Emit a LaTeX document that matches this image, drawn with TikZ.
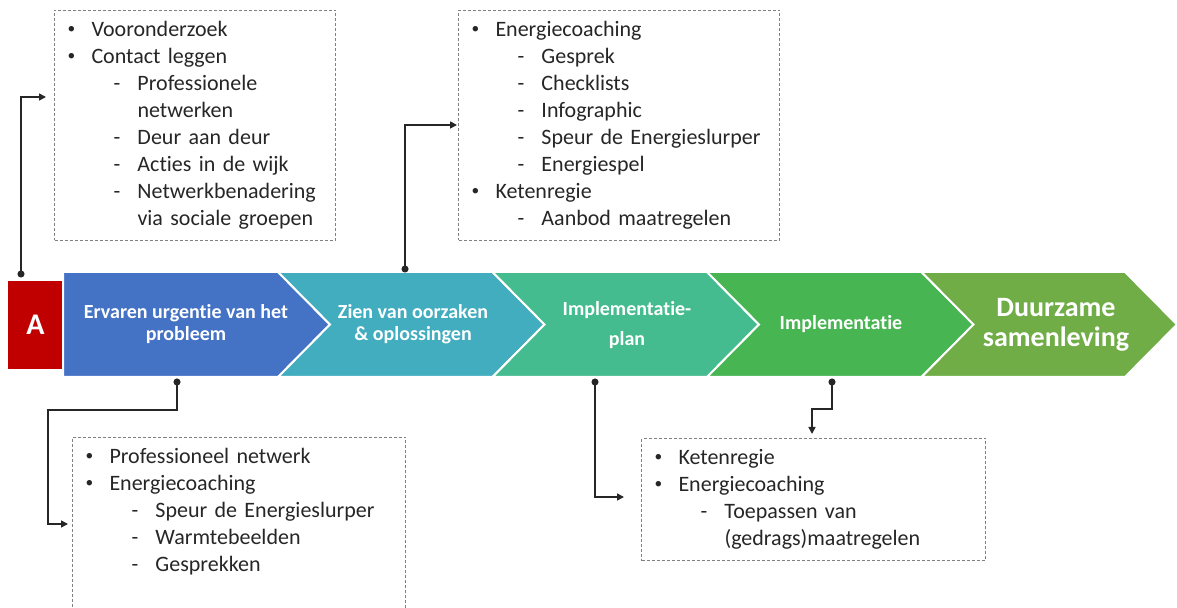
\documentclass[tikz,border=0pt]{standalone}
\usepackage{fontspec}
\setmainfont[Ligatures=NoCommon]{Carlito}
\usepackage{tikz}
\usetikzlibrary{positioning, arrows.meta}
\definecolor{rood}{RGB}{192, 0, 0}
\definecolor{blauw}{RGB}{68, 114, 196}
\definecolor{turkoois}{RGB}{67, 173, 192}
\definecolor{jade}{RGB}{69, 188, 143}
\definecolor{groen}{RGB}{72, 181, 83}
\definecolor{olijf}{RGB}{112, 173, 71}
\definecolor{rand}{RGB}{128, 128, 128}
\newcommand{\stip}{\raisebox{0.3ex}{\scalebox{0.7}{\textbullet}}}
\newcommand{\punt}[1]{\mbox{\strut\makebox[12pt][l]{\stip}#1}}
\newcommand{\streep}[1]{\mbox{\strut\hspace*{23pt}\makebox[12pt][l]{-}#1}}
\newcommand{\verder}[1]{\mbox{\strut\hspace*{35pt}#1}}
\tikzset{
    pijl/.style={draw=white, line width=1pt},
    stap/.style={text=white, align=center, inner sep=0pt, font=\bfseries\fontsize{10}{11}\selectfont},
    kader/.style={draw=rand, dash pattern=on 1.5pt off 1pt, line width=0.5pt, align=left, anchor=north west,
                  inner xsep=6.5pt, inner ysep=3.5pt, text=black!85, font=\fontsize{11}{13.5}\selectfont},
    conn/.style={draw=black!85, line width=0.75pt, {Circle[length=3.5pt]}-{Triangle[length=3.5pt, width=3.5pt]}},
}

\begin{document}
\begin{tikzpicture}[x=0.5pt, y=-0.5pt]
    \useasboundingbox (0,0) rectangle (1177,608);
    \clip (0,0) rectangle (1177,608);

    % pijlen
    \node[fill=rood, minimum width=27.5pt, minimum height=44pt, inner sep=0pt, text=white,
          font=\bfseries\fontsize{15}{15}\selectfont] (a) at (35.5,325) {A};
    \fill[blauw, pijl] (63,272) -- (278,272) -- (330,324.5) -- (278,377) -- (63,377) -- cycle;
    \fill[turkoois, pijl] (278,272) -- (492.5,272) -- (544.5,324.5) -- (492.5,377) -- (278,377) -- (330,324.5) -- cycle;
    \fill[jade, pijl] (492.5,272) -- (707,272) -- (759,324.5) -- (707,377) -- (492.5,377) -- (544.5,324.5) -- cycle;
    \fill[groen, pijl] (707,272) -- (921.5,272) -- (973.5,324.5) -- (921.5,377) -- (707,377) -- (759,324.5) -- cycle;
    \fill[olijf, pijl] (921.5,272) -- (1125,272) -- (1177,324.5) -- (1125,377) -- (921.5,377) -- (973.5,324.5) -- cycle;

    \node[stap] (urgentie) at (186,324.5) {Ervaren urgentie van het\\probleem};
    \node[stap] (oorzaken) at (413,324.5) {Zien van oorzaken\\\& oplossingen};
    \node[stap, font=\bfseries\fontsize{10}{15}\selectfont] (plan) at (627,325) {Implementatie-\\plan};
    \node[stap] (implementatie) at (841,324.5) {Implementatie};
    \node[stap, font=\bfseries\fontsize{14}{15}\selectfont] (duurzaam) at (1056,324.5) {Duurzame\\samenleving};

    % kaders
    \node[kader, text width=127.5pt] (vooraf) at (54,10) {
        \punt{Vooronderzoek}\\
        \punt{Contact leggen}\\
        \streep{Professionele}\\
        \verder{netwerken}\\
        \streep{Deur aan deur}\\
        \streep{Acties in de wijk}\\
        \streep{Netwerkbenadering}\\
        \verder{via sociale groepen}};
    \node[kader, text width=147.5pt] (coaching) at (458,10) {
        \punt{Energiecoaching}\\
        \streep{Gesprek}\\
        \streep{Checklists}\\
        \streep{Infographic}\\
        \streep{Speur de Energieslurper}\\
        \streep{Energiespel}\\
        \punt{Ketenregie}\\
        \streep{Aanbod maatregelen}};
    \node[kader, text width=153.5pt] (netwerk) at (72,437) {
        \punt{Professioneel netwerk}\\
        \punt{Energiecoaching}\\
        \streep{Speur de Energieslurper}\\
        \streep{Warmtebeelden}\\
        \streep{Gesprekken}\\
        \strut\\
        \strut};
    \node[kader, text width=159pt] (keten) at (641,438) {
        \punt{Ketenregie}\\
        \punt{Energiecoaching}\\
        \streep{Toepassen van}\\
        \verder{(gedrags)maatregelen}};

    % verbindingen
    \coordinate (d1) at (21,277.5);
    \coordinate (d2) at (405,272.5);
    \coordinate (d3) at (177,378.5);
    \coordinate (d4) at (595,378.5);
    \coordinate (d5) at (832,378.5);

    \draw[conn] (d1) |- ([shift={(-8,87)}]vooraf.north west);
    \draw[conn] (d2) |- ([shift={(-1,115)}]coaching.north west);
    \draw[conn] (d3) -- ++(0,31.5) -- ++(-129,0) |- ([shift={(-4,87)}]netwerk.north west);
    \draw[conn] (d4) |- ([shift={(-17,59)}]keten.north west);
    \draw[conn] (d5) -- ++(0,30.5) -| ([shift={(171,-4)}]keten.north west);
\end{tikzpicture}
\end{document}
